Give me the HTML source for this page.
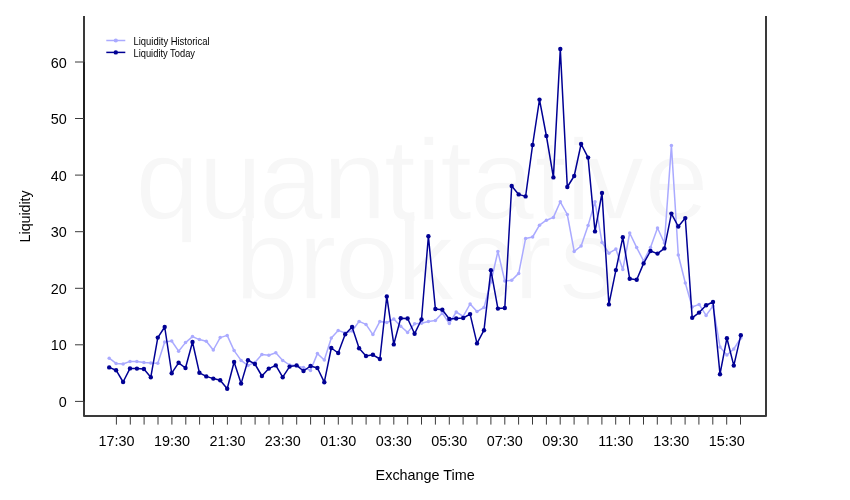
<!DOCTYPE html>
<html><head><meta charset="utf-8"><title>Liquidity</title>
<style>html,body{margin:0;padding:0;background:#fff}body{width:850px;height:500px;overflow:hidden}</style></head>
<body>
<svg width="850" height="500" viewBox="0 0 850 500" style="display:block">
<rect width="850" height="500" fill="#fff"/>
<defs><clipPath id="cLow"><rect x="0" y="221" width="850" height="279"/></clipPath><clipPath id="cTop"><rect x="0" y="0" width="850" height="221"/></clipPath></defs>
<g font-family="Liberation Sans, Arial, sans-serif" fill="#f7f7f7" font-size="115.5">
<text stroke="#fff" stroke-width="1.4" x="135.3 198.2 258.8 322.5 383.8 416.1 440 470 534.5 565.8 586.5 644.5" y="218.5">quantitative</text>
<g clip-path="url(#cTop)"><text id="wm2" x="234.7 298.1 334.8 396.5 453.4 513.5 559.3" y="298.5">brokers</text></g>
<g clip-path="url(#cLow)" stroke="#fff" stroke-width="1.4"><use href="#wm2"/></g>
</g>
<polyline fill="none" stroke="#aaaaff" stroke-width="1.5" stroke-linejoin="round" stroke-linecap="round" points="109.2,358.2 116.1,363.4 123.1,364.0 130.0,361.4 136.9,361.4 143.9,362.6 150.8,363.0 157.8,363.2 164.7,342.0 171.7,341.0 178.6,351.2 185.5,342.6 192.5,336.6 199.4,339.6 206.3,341.2 213.3,350.0 220.2,337.6 227.2,335.4 234.1,350.6 241.1,360.4 248.0,365.6 254.9,362.4 261.9,354.6 268.8,355.3 275.8,352.8 282.7,360.4 289.6,365.0 296.6,365.6 303.5,367.6 310.5,370.4 317.4,353.6 324.3,360.0 331.3,338.0 338.2,330.4 345.2,333.0 352.1,331.0 359.1,321.4 366.0,324.4 372.9,334.6 379.9,321.4 386.8,322.6 393.8,319.0 400.7,326.2 407.6,332.4 414.6,323.8 421.5,323.3 428.4,321.5 435.4,320.6 442.3,313.0 449.3,323.6 456.2,312.0 463.2,316.4 470.1,304.0 477.0,311.6 484.0,307.5 490.9,282.0 497.9,251.4 504.8,281.0 511.7,280.3 518.7,273.4 525.6,238.4 532.6,237.0 539.5,225.2 546.4,220.2 553.4,217.4 560.3,201.8 567.3,214.5 574.2,251.4 581.1,246.0 588.1,225.4 595.0,201.8 602.0,242.4 608.9,253.2 615.9,249.1 622.8,269.6 629.7,233.0 636.7,247.6 643.6,261.0 650.5,247.4 657.5,228.0 664.4,243.0 671.4,145.6 678.3,255.0 685.3,283.0 692.2,307.0 699.1,304.4 706.1,315.4 713.0,306.0 720.0,347.0 726.9,355.0 733.8,349.0 740.8,338.0"/>
<circle cx="109.2" cy="358.2" r="1.75" fill="#aaaaff"/><circle cx="116.1" cy="363.4" r="1.75" fill="#aaaaff"/><circle cx="123.1" cy="364.0" r="1.75" fill="#aaaaff"/><circle cx="130.0" cy="361.4" r="1.75" fill="#aaaaff"/><circle cx="136.9" cy="361.4" r="1.75" fill="#aaaaff"/><circle cx="143.9" cy="362.6" r="1.75" fill="#aaaaff"/><circle cx="150.8" cy="363.0" r="1.75" fill="#aaaaff"/><circle cx="157.8" cy="363.2" r="1.75" fill="#aaaaff"/><circle cx="164.7" cy="342.0" r="1.75" fill="#aaaaff"/><circle cx="171.7" cy="341.0" r="1.75" fill="#aaaaff"/><circle cx="178.6" cy="351.2" r="1.75" fill="#aaaaff"/><circle cx="185.5" cy="342.6" r="1.75" fill="#aaaaff"/><circle cx="192.5" cy="336.6" r="1.75" fill="#aaaaff"/><circle cx="199.4" cy="339.6" r="1.75" fill="#aaaaff"/><circle cx="206.3" cy="341.2" r="1.75" fill="#aaaaff"/><circle cx="213.3" cy="350.0" r="1.75" fill="#aaaaff"/><circle cx="220.2" cy="337.6" r="1.75" fill="#aaaaff"/><circle cx="227.2" cy="335.4" r="1.75" fill="#aaaaff"/><circle cx="234.1" cy="350.6" r="1.75" fill="#aaaaff"/><circle cx="241.1" cy="360.4" r="1.75" fill="#aaaaff"/><circle cx="248.0" cy="365.6" r="1.75" fill="#aaaaff"/><circle cx="254.9" cy="362.4" r="1.75" fill="#aaaaff"/><circle cx="261.9" cy="354.6" r="1.75" fill="#aaaaff"/><circle cx="268.8" cy="355.3" r="1.75" fill="#aaaaff"/><circle cx="275.8" cy="352.8" r="1.75" fill="#aaaaff"/><circle cx="282.7" cy="360.4" r="1.75" fill="#aaaaff"/><circle cx="289.6" cy="365.0" r="1.75" fill="#aaaaff"/><circle cx="296.6" cy="365.6" r="1.75" fill="#aaaaff"/><circle cx="303.5" cy="367.6" r="1.75" fill="#aaaaff"/><circle cx="310.5" cy="370.4" r="1.75" fill="#aaaaff"/><circle cx="317.4" cy="353.6" r="1.75" fill="#aaaaff"/><circle cx="324.3" cy="360.0" r="1.75" fill="#aaaaff"/><circle cx="331.3" cy="338.0" r="1.75" fill="#aaaaff"/><circle cx="338.2" cy="330.4" r="1.75" fill="#aaaaff"/><circle cx="345.2" cy="333.0" r="1.75" fill="#aaaaff"/><circle cx="352.1" cy="331.0" r="1.75" fill="#aaaaff"/><circle cx="359.1" cy="321.4" r="1.75" fill="#aaaaff"/><circle cx="366.0" cy="324.4" r="1.75" fill="#aaaaff"/><circle cx="372.9" cy="334.6" r="1.75" fill="#aaaaff"/><circle cx="379.9" cy="321.4" r="1.75" fill="#aaaaff"/><circle cx="386.8" cy="322.6" r="1.75" fill="#aaaaff"/><circle cx="393.8" cy="319.0" r="1.75" fill="#aaaaff"/><circle cx="400.7" cy="326.2" r="1.75" fill="#aaaaff"/><circle cx="407.6" cy="332.4" r="1.75" fill="#aaaaff"/><circle cx="414.6" cy="323.8" r="1.75" fill="#aaaaff"/><circle cx="421.5" cy="323.3" r="1.75" fill="#aaaaff"/><circle cx="428.4" cy="321.5" r="1.75" fill="#aaaaff"/><circle cx="435.4" cy="320.6" r="1.75" fill="#aaaaff"/><circle cx="442.3" cy="313.0" r="1.75" fill="#aaaaff"/><circle cx="449.3" cy="323.6" r="1.75" fill="#aaaaff"/><circle cx="456.2" cy="312.0" r="1.75" fill="#aaaaff"/><circle cx="463.2" cy="316.4" r="1.75" fill="#aaaaff"/><circle cx="470.1" cy="304.0" r="1.75" fill="#aaaaff"/><circle cx="477.0" cy="311.6" r="1.75" fill="#aaaaff"/><circle cx="484.0" cy="307.5" r="1.75" fill="#aaaaff"/><circle cx="490.9" cy="282.0" r="1.75" fill="#aaaaff"/><circle cx="497.9" cy="251.4" r="1.75" fill="#aaaaff"/><circle cx="504.8" cy="281.0" r="1.75" fill="#aaaaff"/><circle cx="511.7" cy="280.3" r="1.75" fill="#aaaaff"/><circle cx="518.7" cy="273.4" r="1.75" fill="#aaaaff"/><circle cx="525.6" cy="238.4" r="1.75" fill="#aaaaff"/><circle cx="532.6" cy="237.0" r="1.75" fill="#aaaaff"/><circle cx="539.5" cy="225.2" r="1.75" fill="#aaaaff"/><circle cx="546.4" cy="220.2" r="1.75" fill="#aaaaff"/><circle cx="553.4" cy="217.4" r="1.75" fill="#aaaaff"/><circle cx="560.3" cy="201.8" r="1.75" fill="#aaaaff"/><circle cx="567.3" cy="214.5" r="1.75" fill="#aaaaff"/><circle cx="574.2" cy="251.4" r="1.75" fill="#aaaaff"/><circle cx="581.1" cy="246.0" r="1.75" fill="#aaaaff"/><circle cx="588.1" cy="225.4" r="1.75" fill="#aaaaff"/><circle cx="595.0" cy="201.8" r="1.75" fill="#aaaaff"/><circle cx="602.0" cy="242.4" r="1.75" fill="#aaaaff"/><circle cx="608.9" cy="253.2" r="1.75" fill="#aaaaff"/><circle cx="615.9" cy="249.1" r="1.75" fill="#aaaaff"/><circle cx="622.8" cy="269.6" r="1.75" fill="#aaaaff"/><circle cx="629.7" cy="233.0" r="1.75" fill="#aaaaff"/><circle cx="636.7" cy="247.6" r="1.75" fill="#aaaaff"/><circle cx="643.6" cy="261.0" r="1.75" fill="#aaaaff"/><circle cx="650.5" cy="247.4" r="1.75" fill="#aaaaff"/><circle cx="657.5" cy="228.0" r="1.75" fill="#aaaaff"/><circle cx="664.4" cy="243.0" r="1.75" fill="#aaaaff"/><circle cx="671.4" cy="145.6" r="1.75" fill="#aaaaff"/><circle cx="678.3" cy="255.0" r="1.75" fill="#aaaaff"/><circle cx="685.3" cy="283.0" r="1.75" fill="#aaaaff"/><circle cx="692.2" cy="307.0" r="1.75" fill="#aaaaff"/><circle cx="699.1" cy="304.4" r="1.75" fill="#aaaaff"/><circle cx="706.1" cy="315.4" r="1.75" fill="#aaaaff"/><circle cx="713.0" cy="306.0" r="1.75" fill="#aaaaff"/><circle cx="720.0" cy="347.0" r="1.75" fill="#aaaaff"/><circle cx="726.9" cy="355.0" r="1.75" fill="#aaaaff"/><circle cx="733.8" cy="349.0" r="1.75" fill="#aaaaff"/><circle cx="740.8" cy="338.0" r="1.75" fill="#aaaaff"/>

<polyline fill="none" stroke="#000094" stroke-width="1.5" stroke-linejoin="round" stroke-linecap="round" points="109.2,367.4 116.1,370.2 123.1,382.0 130.0,368.4 136.9,368.6 143.9,369.0 150.8,377.2 157.8,337.6 164.7,327.0 171.7,373.2 178.6,362.8 185.5,368.0 192.5,342.0 199.4,372.8 206.3,376.4 213.3,378.6 220.2,380.2 227.2,388.8 234.1,362.0 241.1,383.6 248.0,360.2 254.9,364.0 261.9,376.0 268.8,368.6 275.8,365.4 282.7,377.2 289.6,366.6 296.6,365.4 303.5,371.0 310.5,366.0 317.4,368.0 324.3,382.2 331.3,348.0 338.2,353.0 345.2,334.2 352.1,327.0 359.1,348.2 366.0,356.0 372.9,354.8 379.9,359.0 386.8,296.4 393.8,344.4 400.7,318.3 407.6,318.5 414.6,333.7 421.5,319.5 428.4,236.2 435.4,309.0 442.3,309.8 449.3,319.0 456.2,318.5 463.2,318.0 470.1,314.1 477.0,343.4 484.0,330.2 490.9,270.2 497.9,308.6 504.8,308.0 511.7,186.0 518.7,194.4 525.6,196.4 532.6,145.0 539.5,99.6 546.4,136.0 553.4,177.4 560.3,49.0 567.3,187.0 574.2,176.0 581.1,144.0 588.1,157.6 595.0,231.4 602.0,193.0 608.9,304.4 615.9,270.1 622.8,237.3 629.7,278.8 636.7,279.7 643.6,263.4 650.5,251.0 657.5,253.6 664.4,248.4 671.4,213.6 678.3,226.5 685.3,218.1 692.2,317.8 699.1,312.6 706.1,305.2 713.0,302.0 720.0,374.2 726.9,338.2 733.8,365.6 740.8,335.2"/>
<circle cx="109.2" cy="367.4" r="2.2" fill="#000094"/><circle cx="116.1" cy="370.2" r="2.2" fill="#000094"/><circle cx="123.1" cy="382.0" r="2.2" fill="#000094"/><circle cx="130.0" cy="368.4" r="2.2" fill="#000094"/><circle cx="136.9" cy="368.6" r="2.2" fill="#000094"/><circle cx="143.9" cy="369.0" r="2.2" fill="#000094"/><circle cx="150.8" cy="377.2" r="2.2" fill="#000094"/><circle cx="157.8" cy="337.6" r="2.2" fill="#000094"/><circle cx="164.7" cy="327.0" r="2.2" fill="#000094"/><circle cx="171.7" cy="373.2" r="2.2" fill="#000094"/><circle cx="178.6" cy="362.8" r="2.2" fill="#000094"/><circle cx="185.5" cy="368.0" r="2.2" fill="#000094"/><circle cx="192.5" cy="342.0" r="2.2" fill="#000094"/><circle cx="199.4" cy="372.8" r="2.2" fill="#000094"/><circle cx="206.3" cy="376.4" r="2.2" fill="#000094"/><circle cx="213.3" cy="378.6" r="2.2" fill="#000094"/><circle cx="220.2" cy="380.2" r="2.2" fill="#000094"/><circle cx="227.2" cy="388.8" r="2.2" fill="#000094"/><circle cx="234.1" cy="362.0" r="2.2" fill="#000094"/><circle cx="241.1" cy="383.6" r="2.2" fill="#000094"/><circle cx="248.0" cy="360.2" r="2.2" fill="#000094"/><circle cx="254.9" cy="364.0" r="2.2" fill="#000094"/><circle cx="261.9" cy="376.0" r="2.2" fill="#000094"/><circle cx="268.8" cy="368.6" r="2.2" fill="#000094"/><circle cx="275.8" cy="365.4" r="2.2" fill="#000094"/><circle cx="282.7" cy="377.2" r="2.2" fill="#000094"/><circle cx="289.6" cy="366.6" r="2.2" fill="#000094"/><circle cx="296.6" cy="365.4" r="2.2" fill="#000094"/><circle cx="303.5" cy="371.0" r="2.2" fill="#000094"/><circle cx="310.5" cy="366.0" r="2.2" fill="#000094"/><circle cx="317.4" cy="368.0" r="2.2" fill="#000094"/><circle cx="324.3" cy="382.2" r="2.2" fill="#000094"/><circle cx="331.3" cy="348.0" r="2.2" fill="#000094"/><circle cx="338.2" cy="353.0" r="2.2" fill="#000094"/><circle cx="345.2" cy="334.2" r="2.2" fill="#000094"/><circle cx="352.1" cy="327.0" r="2.2" fill="#000094"/><circle cx="359.1" cy="348.2" r="2.2" fill="#000094"/><circle cx="366.0" cy="356.0" r="2.2" fill="#000094"/><circle cx="372.9" cy="354.8" r="2.2" fill="#000094"/><circle cx="379.9" cy="359.0" r="2.2" fill="#000094"/><circle cx="386.8" cy="296.4" r="2.2" fill="#000094"/><circle cx="393.8" cy="344.4" r="2.2" fill="#000094"/><circle cx="400.7" cy="318.3" r="2.2" fill="#000094"/><circle cx="407.6" cy="318.5" r="2.2" fill="#000094"/><circle cx="414.6" cy="333.7" r="2.2" fill="#000094"/><circle cx="421.5" cy="319.5" r="2.2" fill="#000094"/><circle cx="428.4" cy="236.2" r="2.2" fill="#000094"/><circle cx="435.4" cy="309.0" r="2.2" fill="#000094"/><circle cx="442.3" cy="309.8" r="2.2" fill="#000094"/><circle cx="449.3" cy="319.0" r="2.2" fill="#000094"/><circle cx="456.2" cy="318.5" r="2.2" fill="#000094"/><circle cx="463.2" cy="318.0" r="2.2" fill="#000094"/><circle cx="470.1" cy="314.1" r="2.2" fill="#000094"/><circle cx="477.0" cy="343.4" r="2.2" fill="#000094"/><circle cx="484.0" cy="330.2" r="2.2" fill="#000094"/><circle cx="490.9" cy="270.2" r="2.2" fill="#000094"/><circle cx="497.9" cy="308.6" r="2.2" fill="#000094"/><circle cx="504.8" cy="308.0" r="2.2" fill="#000094"/><circle cx="511.7" cy="186.0" r="2.2" fill="#000094"/><circle cx="518.7" cy="194.4" r="2.2" fill="#000094"/><circle cx="525.6" cy="196.4" r="2.2" fill="#000094"/><circle cx="532.6" cy="145.0" r="2.2" fill="#000094"/><circle cx="539.5" cy="99.6" r="2.2" fill="#000094"/><circle cx="546.4" cy="136.0" r="2.2" fill="#000094"/><circle cx="553.4" cy="177.4" r="2.2" fill="#000094"/><circle cx="560.3" cy="49.0" r="2.2" fill="#000094"/><circle cx="567.3" cy="187.0" r="2.2" fill="#000094"/><circle cx="574.2" cy="176.0" r="2.2" fill="#000094"/><circle cx="581.1" cy="144.0" r="2.2" fill="#000094"/><circle cx="588.1" cy="157.6" r="2.2" fill="#000094"/><circle cx="595.0" cy="231.4" r="2.2" fill="#000094"/><circle cx="602.0" cy="193.0" r="2.2" fill="#000094"/><circle cx="608.9" cy="304.4" r="2.2" fill="#000094"/><circle cx="615.9" cy="270.1" r="2.2" fill="#000094"/><circle cx="622.8" cy="237.3" r="2.2" fill="#000094"/><circle cx="629.7" cy="278.8" r="2.2" fill="#000094"/><circle cx="636.7" cy="279.7" r="2.2" fill="#000094"/><circle cx="643.6" cy="263.4" r="2.2" fill="#000094"/><circle cx="650.5" cy="251.0" r="2.2" fill="#000094"/><circle cx="657.5" cy="253.6" r="2.2" fill="#000094"/><circle cx="664.4" cy="248.4" r="2.2" fill="#000094"/><circle cx="671.4" cy="213.6" r="2.2" fill="#000094"/><circle cx="678.3" cy="226.5" r="2.2" fill="#000094"/><circle cx="685.3" cy="218.1" r="2.2" fill="#000094"/><circle cx="692.2" cy="317.8" r="2.2" fill="#000094"/><circle cx="699.1" cy="312.6" r="2.2" fill="#000094"/><circle cx="706.1" cy="305.2" r="2.2" fill="#000094"/><circle cx="713.0" cy="302.0" r="2.2" fill="#000094"/><circle cx="720.0" cy="374.2" r="2.2" fill="#000094"/><circle cx="726.9" cy="338.2" r="2.2" fill="#000094"/><circle cx="733.8" cy="365.6" r="2.2" fill="#000094"/><circle cx="740.8" cy="335.2" r="2.2" fill="#000094"/>

<path d="M84,16 V416 H766 V16" fill="none" stroke="#3a3a3a" stroke-width="2" stroke-linejoin="round"/>
<path d="M116.4,416 H740.5 M84,401.4 V62" fill="none" stroke="#202020" stroke-width="2"/>
<line x1="75" x2="84" y1="401.4" y2="401.4" stroke="#3a3a3a" stroke-width="1"/>
<text x="66.7" y="406.9" font-size="14.4" text-anchor="end" font-family="Liberation Sans, Arial, sans-serif" fill="#000">0</text>
<line x1="75" x2="84" y1="344.8" y2="344.8" stroke="#3a3a3a" stroke-width="1"/>
<text x="66.7" y="350.3" font-size="14.4" text-anchor="end" font-family="Liberation Sans, Arial, sans-serif" fill="#000">10</text>
<line x1="75" x2="84" y1="288.3" y2="288.3" stroke="#3a3a3a" stroke-width="1"/>
<text x="66.7" y="293.8" font-size="14.4" text-anchor="end" font-family="Liberation Sans, Arial, sans-serif" fill="#000">20</text>
<line x1="75" x2="84" y1="231.7" y2="231.7" stroke="#3a3a3a" stroke-width="1"/>
<text x="66.7" y="237.2" font-size="14.4" text-anchor="end" font-family="Liberation Sans, Arial, sans-serif" fill="#000">30</text>
<line x1="75" x2="84" y1="175.1" y2="175.1" stroke="#3a3a3a" stroke-width="1"/>
<text x="66.7" y="180.6" font-size="14.4" text-anchor="end" font-family="Liberation Sans, Arial, sans-serif" fill="#000">40</text>
<line x1="75" x2="84" y1="118.5" y2="118.5" stroke="#3a3a3a" stroke-width="1"/>
<text x="66.7" y="124.0" font-size="14.4" text-anchor="end" font-family="Liberation Sans, Arial, sans-serif" fill="#000">50</text>
<line x1="75" x2="84" y1="62.0" y2="62.0" stroke="#3a3a3a" stroke-width="1"/>
<text x="66.7" y="67.5" font-size="14.4" text-anchor="end" font-family="Liberation Sans, Arial, sans-serif" fill="#000">60</text>
<line x1="116.4" x2="116.4" y1="416" y2="424.6" stroke="#3a3a3a" stroke-width="1"/>
<text x="116.4" y="446" font-size="14.4" text-anchor="middle" font-family="Liberation Sans, Arial, sans-serif" fill="#000">17:30</text>
<line x1="130.3" x2="130.3" y1="416" y2="424.6" stroke="#3a3a3a" stroke-width="1"/>
<line x1="144.1" x2="144.1" y1="416" y2="424.6" stroke="#3a3a3a" stroke-width="1"/>
<line x1="158.0" x2="158.0" y1="416" y2="424.6" stroke="#3a3a3a" stroke-width="1"/>
<line x1="171.9" x2="171.9" y1="416" y2="424.6" stroke="#3a3a3a" stroke-width="1"/>
<text x="171.9" y="446" font-size="14.4" text-anchor="middle" font-family="Liberation Sans, Arial, sans-serif" fill="#000">19:30</text>
<line x1="185.8" x2="185.8" y1="416" y2="424.6" stroke="#3a3a3a" stroke-width="1"/>
<line x1="199.6" x2="199.6" y1="416" y2="424.6" stroke="#3a3a3a" stroke-width="1"/>
<line x1="213.5" x2="213.5" y1="416" y2="424.6" stroke="#3a3a3a" stroke-width="1"/>
<line x1="227.4" x2="227.4" y1="416" y2="424.6" stroke="#3a3a3a" stroke-width="1"/>
<text x="227.4" y="446" font-size="14.4" text-anchor="middle" font-family="Liberation Sans, Arial, sans-serif" fill="#000">21:30</text>
<line x1="241.2" x2="241.2" y1="416" y2="424.6" stroke="#3a3a3a" stroke-width="1"/>
<line x1="255.1" x2="255.1" y1="416" y2="424.6" stroke="#3a3a3a" stroke-width="1"/>
<line x1="269.0" x2="269.0" y1="416" y2="424.6" stroke="#3a3a3a" stroke-width="1"/>
<line x1="282.8" x2="282.8" y1="416" y2="424.6" stroke="#3a3a3a" stroke-width="1"/>
<text x="282.8" y="446" font-size="14.4" text-anchor="middle" font-family="Liberation Sans, Arial, sans-serif" fill="#000">23:30</text>
<line x1="296.7" x2="296.7" y1="416" y2="424.6" stroke="#3a3a3a" stroke-width="1"/>
<line x1="310.6" x2="310.6" y1="416" y2="424.6" stroke="#3a3a3a" stroke-width="1"/>
<line x1="324.4" x2="324.4" y1="416" y2="424.6" stroke="#3a3a3a" stroke-width="1"/>
<line x1="338.3" x2="338.3" y1="416" y2="424.6" stroke="#3a3a3a" stroke-width="1"/>
<text x="338.3" y="446" font-size="14.4" text-anchor="middle" font-family="Liberation Sans, Arial, sans-serif" fill="#000">01:30</text>
<line x1="352.2" x2="352.2" y1="416" y2="424.6" stroke="#3a3a3a" stroke-width="1"/>
<line x1="366.1" x2="366.1" y1="416" y2="424.6" stroke="#3a3a3a" stroke-width="1"/>
<line x1="379.9" x2="379.9" y1="416" y2="424.6" stroke="#3a3a3a" stroke-width="1"/>
<line x1="393.8" x2="393.8" y1="416" y2="424.6" stroke="#3a3a3a" stroke-width="1"/>
<text x="393.8" y="446" font-size="14.4" text-anchor="middle" font-family="Liberation Sans, Arial, sans-serif" fill="#000">03:30</text>
<line x1="407.7" x2="407.7" y1="416" y2="424.6" stroke="#3a3a3a" stroke-width="1"/>
<line x1="421.5" x2="421.5" y1="416" y2="424.6" stroke="#3a3a3a" stroke-width="1"/>
<line x1="435.4" x2="435.4" y1="416" y2="424.6" stroke="#3a3a3a" stroke-width="1"/>
<line x1="449.3" x2="449.3" y1="416" y2="424.6" stroke="#3a3a3a" stroke-width="1"/>
<text x="449.3" y="446" font-size="14.4" text-anchor="middle" font-family="Liberation Sans, Arial, sans-serif" fill="#000">05:30</text>
<line x1="463.1" x2="463.1" y1="416" y2="424.6" stroke="#3a3a3a" stroke-width="1"/>
<line x1="477.0" x2="477.0" y1="416" y2="424.6" stroke="#3a3a3a" stroke-width="1"/>
<line x1="490.9" x2="490.9" y1="416" y2="424.6" stroke="#3a3a3a" stroke-width="1"/>
<line x1="504.8" x2="504.8" y1="416" y2="424.6" stroke="#3a3a3a" stroke-width="1"/>
<text x="504.8" y="446" font-size="14.4" text-anchor="middle" font-family="Liberation Sans, Arial, sans-serif" fill="#000">07:30</text>
<line x1="518.6" x2="518.6" y1="416" y2="424.6" stroke="#3a3a3a" stroke-width="1"/>
<line x1="532.5" x2="532.5" y1="416" y2="424.6" stroke="#3a3a3a" stroke-width="1"/>
<line x1="546.4" x2="546.4" y1="416" y2="424.6" stroke="#3a3a3a" stroke-width="1"/>
<line x1="560.2" x2="560.2" y1="416" y2="424.6" stroke="#3a3a3a" stroke-width="1"/>
<text x="560.2" y="446" font-size="14.4" text-anchor="middle" font-family="Liberation Sans, Arial, sans-serif" fill="#000">09:30</text>
<line x1="574.1" x2="574.1" y1="416" y2="424.6" stroke="#3a3a3a" stroke-width="1"/>
<line x1="588.0" x2="588.0" y1="416" y2="424.6" stroke="#3a3a3a" stroke-width="1"/>
<line x1="601.9" x2="601.9" y1="416" y2="424.6" stroke="#3a3a3a" stroke-width="1"/>
<line x1="615.7" x2="615.7" y1="416" y2="424.6" stroke="#3a3a3a" stroke-width="1"/>
<text x="615.7" y="446" font-size="14.4" text-anchor="middle" font-family="Liberation Sans, Arial, sans-serif" fill="#000">11:30</text>
<line x1="629.6" x2="629.6" y1="416" y2="424.6" stroke="#3a3a3a" stroke-width="1"/>
<line x1="643.5" x2="643.5" y1="416" y2="424.6" stroke="#3a3a3a" stroke-width="1"/>
<line x1="657.3" x2="657.3" y1="416" y2="424.6" stroke="#3a3a3a" stroke-width="1"/>
<line x1="671.2" x2="671.2" y1="416" y2="424.6" stroke="#3a3a3a" stroke-width="1"/>
<text x="671.2" y="446" font-size="14.4" text-anchor="middle" font-family="Liberation Sans, Arial, sans-serif" fill="#000">13:30</text>
<line x1="685.1" x2="685.1" y1="416" y2="424.6" stroke="#3a3a3a" stroke-width="1"/>
<line x1="698.9" x2="698.9" y1="416" y2="424.6" stroke="#3a3a3a" stroke-width="1"/>
<line x1="712.8" x2="712.8" y1="416" y2="424.6" stroke="#3a3a3a" stroke-width="1"/>
<line x1="726.7" x2="726.7" y1="416" y2="424.6" stroke="#3a3a3a" stroke-width="1"/>
<text x="726.7" y="446" font-size="14.4" text-anchor="middle" font-family="Liberation Sans, Arial, sans-serif" fill="#000">15:30</text>
<line x1="740.5" x2="740.5" y1="416" y2="424.6" stroke="#3a3a3a" stroke-width="1"/>
<text x="425.2" y="479.6" font-size="14.4" text-anchor="middle" font-family="Liberation Sans, Arial, sans-serif" fill="#000">Exchange Time</text>
<text transform="translate(29.8,216.4) rotate(-90) scale(0.985,1.05)" font-size="14.4" text-anchor="middle" font-family="Liberation Sans, Arial, sans-serif" fill="#000">Liquidity</text>
<line x1="106.3" x2="125.3" y1="40.5" y2="40.5" stroke="#aaaaff" stroke-width="1.5"/><circle cx="115.8" cy="40.5" r="2.1" fill="#aaaaff"/>
<line x1="106.3" x2="125.3" y1="52.4" y2="52.4" stroke="#000094" stroke-width="1.5"/><circle cx="115.8" cy="52.4" r="2.2" fill="#000094"/>
<text x="133.5" y="44.8" font-size="10.5" textLength="76" lengthAdjust="spacingAndGlyphs" font-family="Liberation Sans, Arial, sans-serif" fill="#000">Liquidity Historical</text>
<text x="133.5" y="56.5" font-size="10.5" textLength="61.5" lengthAdjust="spacingAndGlyphs" font-family="Liberation Sans, Arial, sans-serif" fill="#000">Liquidity Today</text>
</svg>
</body></html>
